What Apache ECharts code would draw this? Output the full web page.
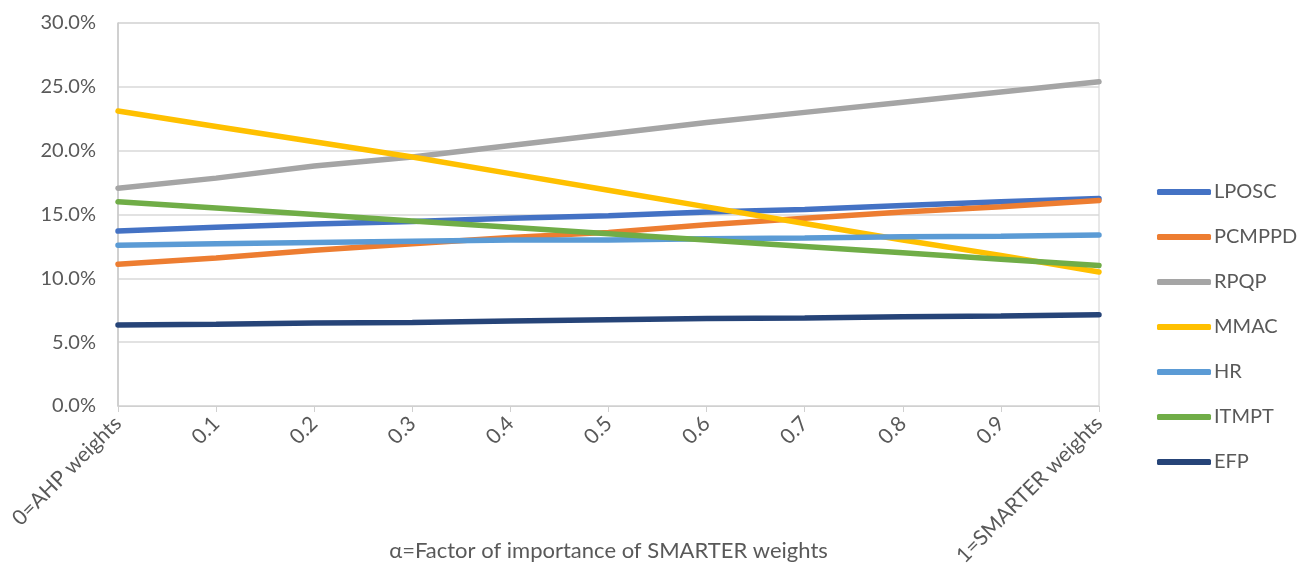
<!DOCTYPE html>
<html>
<head>
<meta charset="utf-8">
<script src="https://cdn.jsdelivr.net/npm/echarts@6/dist/echarts.min.js"></script>
<style>
  html, body { margin: 0; padding: 0; background: #fff; }
  #chart { width: 1314px; height: 577px; }
</style>
</head>
<body>
<div id="chart"></div>
<script>
// α steps from pure AHP weights to pure SMARTER weights
const categories = ['0=AHP weights', '0.1', '0.2', '0.3', '0.4', '0.5', '0.6', '0.7', '0.8', '0.9', '1=SMARTER weights'];

// Priority (%) of each alternative for every α
const LPOSC  = [13.7, 14.0, 14.25, 14.45, 14.7, 14.9, 15.2, 15.4, 15.7, 16.0, 16.25];
const PCMPPD = [11.1, 11.6, 12.2, 12.7, 13.2, 13.6, 14.2, 14.7, 15.2, 15.6, 16.1];
const RPQP   = [17.05, 17.85, 18.8, 19.5, 20.4, 21.3, 22.2, 23.0, 23.8, 24.6, 25.4];
const MMAC   = [23.1, 21.9, 20.7, 19.5, 18.2, 16.9, 15.6, 14.3, 13.0, 11.8, 10.5];
const HR     = [12.6, 12.7, 12.8, 12.9, 13.0, 13.0, 13.1, 13.15, 13.25, 13.3, 13.4];
const ITMPT  = [16.0, 15.5, 15.0, 14.5, 14.0, 13.5, 13.0, 12.5, 12.0, 11.5, 11.0];
const EFP    = [6.35, 6.4, 6.5, 6.55, 6.65, 6.75, 6.85, 6.9, 7.0, 7.05, 7.15];

const yTicks = { min: 0, max: 30, step: 5 };

const seriesDefs = [
  { name: 'LPOSC',  data: LPOSC,  color: '#4472C4' },
  { name: 'PCMPPD', data: PCMPPD, color: '#ED7D31' },
  { name: 'RPQP',   data: RPQP,   color: '#A5A5A5' },
  { name: 'MMAC',   data: MMAC,   color: '#FFC000' },
  { name: 'HR',     data: HR,     color: '#5B9BD5' },
  { name: 'ITMPT',  data: ITMPT,  color: '#70AD47' },
  { name: 'EFP',    data: EFP,    color: '#264478' }
];

const font = 'Lato, "Open Sans", sans-serif';
const chart = echarts.init(document.getElementById('chart'), null, { renderer: 'canvas' });

chart.setOption({
  backgroundColor: '#ffffff',
  animation: false,
  grid: {
    left: 118, right: 215, top: 23, bottom: 171,
    outerBoundsMode: 'none',
    containLabel: false,
    show: true, borderColor: '#d0d0d0', borderWidth: 1, backgroundColor: 'transparent'
  },
  legend: {
    orient: 'vertical',
    left: 1152,
    top: 177,
    itemWidth: 54,
    itemHeight: 6,
    itemGap: 25,
    icon: 'roundRect',
    textStyle: { fontFamily: font, fontSize: 20, color: '#595959', padding: [0, 0, 0, -2] },
    data: seriesDefs.map(s => s.name)
  },
  xAxis: {
    type: 'category',
    data: categories,
    boundaryGap: false,
    name: 'α=Factor of importance of SMARTER weights',
    nameLocation: 'middle',
    nameGap: 134,
    nameMoveOverlap: false,
    nameTextStyle: { fontFamily: font, fontSize: 22, color: '#595959' },
    axisLine: { show: true, lineStyle: { color: '#d0d0d0', width: 1 } },
    axisTick: { show: true, alignWithLabel: true, length: 6, lineStyle: { color: '#d0d0d0' } },
    axisLabel: {
      rotate: 45, margin: 14, interval: 0,
      fontFamily: font, fontSize: 21, color: '#595959'
    },
    splitLine: { show: false }
  },
  yAxis: {
    type: 'value',
    min: yTicks.min, max: yTicks.max, interval: yTicks.step,
    axisLine: { show: true, lineStyle: { color: '#c8c8c8', width: 1.5 } },
    axisTick: { show: false },
    axisLabel: {
      formatter: v => v.toFixed(1) + '%',
      margin: 22,
      fontFamily: font, fontSize: 20, color: '#595959'
    },
    splitLine: { show: true, lineStyle: { color: '#d9d9d9', width: 1.5 } }
  },
  series: seriesDefs.map(s => ({
    name: s.name,
    type: 'line',
    data: s.data,
    symbol: 'none',
    showSymbol: false,
    smooth: false,
    color: s.color,
    lineStyle: { color: s.color, width: 5.5, cap: 'round' },
    itemStyle: { color: s.color }
  }))
});
</script>
</body>
</html>
